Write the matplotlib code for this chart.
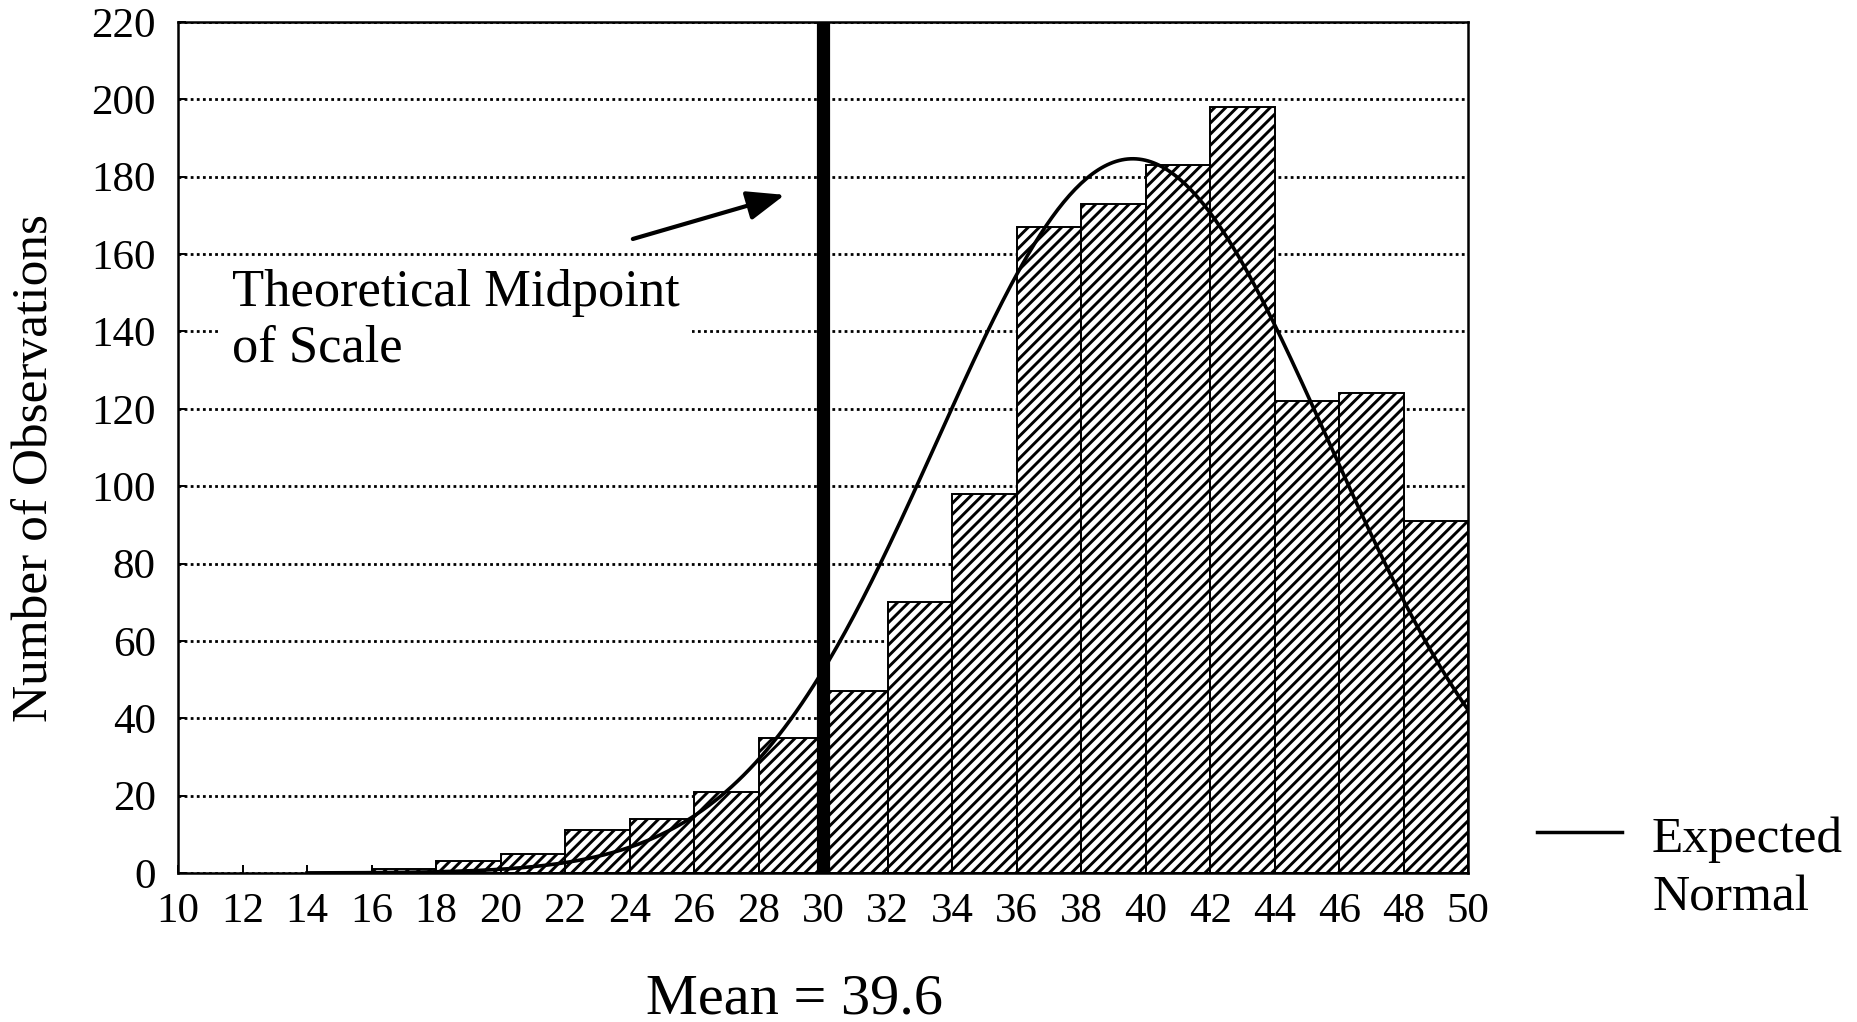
import matplotlib
matplotlib.use("Agg")
import matplotlib.pyplot as plt
from matplotlib.lines import Line2D
import numpy as np

# histogram of scale scores, bins of width 2
bin_edges = [16, 18, 20, 22, 24, 26, 28, 30, 32, 34, 36, 38, 40, 42, 44, 46, 48]
counts = [1, 3, 5, 11, 14, 21, 35, 47, 70, 98, 167, 173, 183, 198, 122, 124, 91]
bin_width = 2

# expected normal fitted to the scores
mean_score = 39.6
sd_score = 6.05
n_obs = 1400
curve_start, curve_end = 14, 50

midpoint = 30
x_ticks = list(range(10, 51, 2))
y_ticks = list(range(0, 221, 20))

plt.rcParams["font.family"] = ["Liberation Serif", "DejaVu Serif"]
plt.rcParams["hatch.linewidth"] = 2.1

fig = plt.figure(figsize=(18.57, 10.22), dpi=100)
ax = fig.add_axes([0.0959, 0.1458, 0.6947, 0.8327])

# ── Histogram bars ──────────────────────────────
ax.bar(bin_edges, counts, width=bin_width, align="edge",
       facecolor="white", edgecolor="black", linewidth=1.4,
       hatch="///", zorder=2)

# ── Expected normal curve ───────────────────────
xs = np.linspace(curve_start, curve_end, 400)
pdf = np.exp(-0.5 * ((xs - mean_score) / sd_score) ** 2) / (sd_score * np.sqrt(2 * np.pi))
ax.plot(xs, n_obs * bin_width * pdf, color="black", linewidth=2.6, zorder=3)

# ── Theoretical midpoint marker ─────────────────
ax.axvline(midpoint, color="black", linewidth=9.5, zorder=4)
ax.text(11.66, 142.7, "Theoretical Midpoint\nof Scale", fontsize=37.8,
        ha="left", va="center", linespacing=1.2, zorder=5,
        bbox=dict(facecolor="white", edgecolor="none", pad=9))
ax.annotate("", xy=(28.81, 175.3), xytext=(24.1, 163.9),
            arrowprops=dict(arrowstyle="-|>,head_length=2.3,head_width=0.9",
                            color="black", lw=3, mutation_scale=10,
                            shrinkA=0, shrinkB=0),
            zorder=5)

# ── Axes styling ────────────────────────────────
ax.set_xlim(10, 50)
ax.set_ylim(0, 220)
ax.set_xticks(x_ticks)
ax.set_yticks(y_ticks)
ax.tick_params(axis="both", direction="in", length=6, width=1.4,
               labelsize=31, colors="black")
ax.tick_params(axis="x", pad=14)
ax.tick_params(axis="y", pad=16)
for spine in ax.spines.values():
    spine.set_linewidth(1.8)
ax.yaxis.grid(True, color="black", linestyle=(0, (1, 1.2)), linewidth=2.0, zorder=0.5)
ax.set_axisbelow(True)

fig.text(35 / 1857, 1 - 468 / 1022, "Number of Observations", fontsize=37,
         rotation=90, ha="center", va="center")

fig.text(0.428, 0.0088, "Mean = 39.6", fontsize=42, ha="center", va="baseline")

# ── Legend for the normal curve ─────────────────
fig.add_artist(Line2D([1537 / 1857, 1622 / 1857], [0.186, 0.186],
                      color="black", linewidth=2.5))
fig.text(1652 / 1857, 1 - 852 / 1022, "Expected", fontsize=37,
         ha="left", va="baseline")
fig.text(1652 / 1857, 1 - 910 / 1022, "Normal", fontsize=37,
         ha="left", va="baseline")

plt.savefig("out.png", dpi=100)
plt.close()
